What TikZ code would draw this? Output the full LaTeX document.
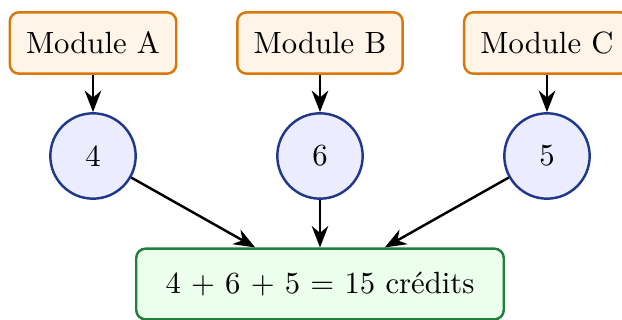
\documentclass[tikz,border=0pt]{standalone}
\usepackage{fontspec}
\usetikzlibrary{arrows.meta}
\definecolor{modborder}{RGB}{214,120,10}
\definecolor{modfill}{RGB}{255,244,232}
\definecolor{cirborder}{RGB}{32,56,140}
\definecolor{cirfill}{RGB}{236,236,255}
\definecolor{resborder}{RGB}{30,128,60}
\definecolor{resfill}{RGB}{236,255,236}
\tikzset{
  modbox/.style={draw=modborder, fill=modfill, thick, rounded corners=3pt,
    inner xsep=5.3pt, inner ysep=0pt, minimum height=20pt},
  credit/.style={draw=cirborder, fill=cirfill, thick, circle, inner sep=0pt,
    minimum size=27.8pt},
  resbox/.style={draw=resborder, fill=resfill, thick, rounded corners=3pt,
    minimum width=119.7pt, minimum height=23pt, inner sep=0pt},
  arr/.style={thick, -{Stealth[length=7pt, width=5.4pt]}}
}
\begin{document}
\begin{tikzpicture}[x=0.3257pt, y=-0.3257pt]
\useasboundingbox (0,0) rectangle (622,320);
\node[modbox] (ma) at (93,43) {Module A};
\node[modbox] (mb) at (320,43) {Module B};
\node[modbox] (mc) at (547,43) {Module C};
\node[credit] (ca) at (93,156) {4};
\node[credit] (cb) at (320,156) {6};
\node[credit] (cc) at (547,156) {5};
\node[resbox] (res) at (320,284) {4 + 6 + 5 = 15 crédits};
\draw[arr] (ma) -- (ca);
\draw[arr] (mb) -- (cb);
\draw[arr] (mc) -- (cc);
\draw[arr] (ca) -- (res);
\draw[arr] (cb) -- (res);
\draw[arr] (cc) -- (res);
\end{tikzpicture}
\end{document}
